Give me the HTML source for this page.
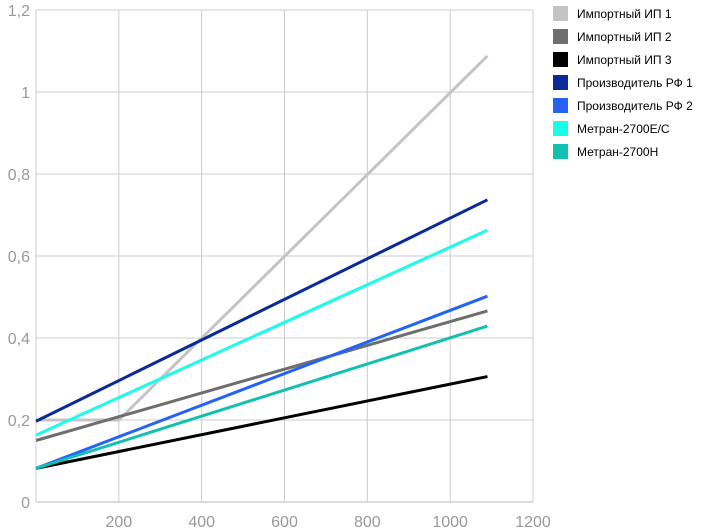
<!DOCTYPE html>
<html><head><meta charset="utf-8"><style>
body{margin:0;background:#fff;font-family:"Liberation Sans",sans-serif}
svg text{font-family:"Liberation Sans",sans-serif}
</style></head><body>
<svg id="c" width="701" height="527"></svg>
<script>
const xTicks=[200,400,600,800,1000,1200];
const yTicks=[0,0.2,0.4,0.6,0.8,1,1.2];
const yLabels=["0","0,2","0,4","0,6","0,8","1","1,2"];
const seriesNames=["Импортный ИП 1","Импортный ИП 2","Импортный ИП 3","Производитель РФ 1","Производитель РФ 2","Метран-2700Е/С","Метран-2700Н"];
const colors=["#c4c4c4","#6e6e6e","#000000","#0a2a9a","#2463f5","#19fde9","#12c0b1"];
const xs1=[0,200,1090];
const ip1=[0.2,0.2,1.088];
const xs=[0,1090];
const ip2=[0.15,0.466];
const ip3=[0.082,0.306];
const rf1=[0.197,0.737];
const rf2=[0.082,0.502];
const mEC=[0.163,0.663];
const mH=[0.082,0.429];
const svg=document.getElementById('c');const NS='http://www.w3.org/2000/svg';
const X=v=>36+v*(497/1200), Y=v=>502-v*(492/1.2);
function mk(t,a){const e=document.createElementNS(NS,t);for(const k in a)e.setAttribute(k,a[k]);svg.appendChild(e);return e;}
xTicks.forEach(t=>{const l=mk('line',{x1:X(t),x2:X(t),y1:Y(1.2),y2:Y(0),stroke:'#ccc'});


const tx=mk('text',{x:X(t),y:527,'text-anchor':'middle','font-size':16,fill:'#999'});tx.textContent=t;

});
yTicks.forEach((t,i)=>{const l=mk('line',{x1:X(0),x2:X(1200),y1:Y(t),y2:Y(t),stroke:t==0?'#bbb':'#ccc'});


const tx=mk('text',{x:30,y:Y(t)+6,'text-anchor':'end','font-size':16,fill:'#999'});tx.textContent=yLabels[i];

});
const lx=mk('line',{x1:X(0),x2:X(0),y1:Y(1.2),y2:Y(0),stroke:'#ccc'});


const data=[[xs1,ip1],[xs,ip2],[xs,ip3],[xs,rf1],[xs,rf2],[xs,mEC],[xs,mH]];
data.forEach((d,i)=>{const p=mk('polyline',{points:d[0].map((x,j)=>X(x)+','+Y(d[1][j])).join(' '),fill:'none',stroke:colors[i],'stroke-width':3});

});
seriesNames.forEach((n,i)=>{const y=13+i*23;
const r=mk('rect',{x:553,y:y-7,width:15,height:15,fill:colors[i]});


const t=mk('text',{x:577,y:y+5,'font-size':12,fill:'#000'});t.textContent=n;

});
</script>
</body></html>
